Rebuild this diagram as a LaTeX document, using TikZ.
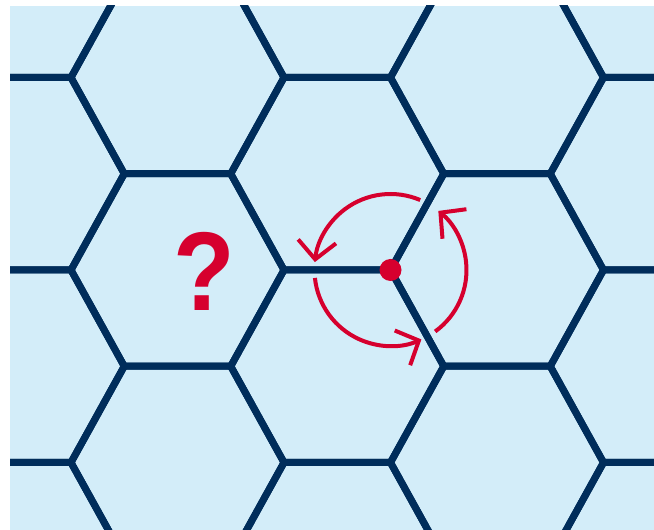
\documentclass[tikz,border=0pt]{standalone}
\usepackage{fontspec}
\newfontfamily\qfont{Liberation Sans}
\usetikzlibrary{arrows.meta}
\definecolor{honeyblue}{RGB}{211,237,249}
\definecolor{honeynavy}{RGB}{0,45,91}
\definecolor{honeyred}{RGB}{214,0,46}

\begin{document}
\begin{tikzpicture}[x=1pt,y=1pt,
    hexline/.style={honeynavy,line width=7pt},
    turnarrow/.style={honeyred,line width=4pt,-{Straight Barb[length=18pt,width=38pt]}}]
  \useasboundingbox (0,0) rectangle (654,530);
  \fill[honeyblue] (10,0) rectangle (654,524);
  \begin{scope}
    \clip (10,0) rectangle (654,524);
    % flat-top cells, s = 106.5, half height = 96.25
    \foreach \cx/\dy in {17.75/96.25,177.5/0,337.25/96.25,497/0,656.75/96.25}
      \foreach \j in {-2,...,2}
        \draw[hexline] (\cx,260+\dy+192.5*\j) ++(106.5,0) -- ++(-53.25,96.25) -- ++(-106.5,0)
          -- ++(-53.25,-96.25) -- ++(53.25,-96.25) -- ++(106.5,0) -- cycle;
  \end{scope}
  \coordinate (vertex) at (390.5,260);
  \foreach \a/\b in {67/174,186/294,306/411}
    \draw[turnarrow] ([shift={(\a:76)}]vertex) arc[start angle=\a,end angle=\b,radius=76];
  \fill[honeyred] (vertex) circle (11);
  \node[honeyred,inner sep=0pt] (query) at (204,258.5)
    {\scalebox{0.9}[1]{\qfont\bfseries\fontsize{112}{112}\selectfont ?}};
\end{tikzpicture}
\end{document}
